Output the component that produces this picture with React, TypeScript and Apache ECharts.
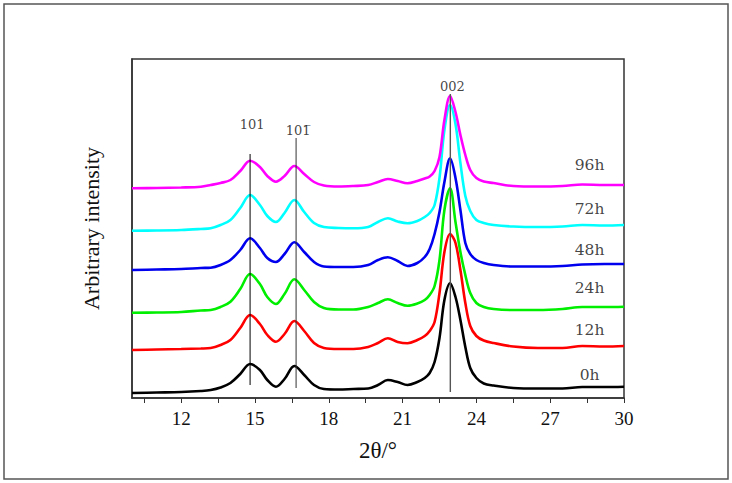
import { useEffect, useRef } from 'react';
import * as echarts from 'echarts';

// 2θ sample positions (degrees)
const twoTheta = [10, 11, 12, 12.8, 13.2, 13.6, 14.0, 14.4, 14.8, 15.2, 15.5, 15.85, 16.2, 16.6, 17.0, 17.4, 17.8, 18.4, 19.0, 19.6, 20.0, 20.4, 20.8, 21.2, 21.6, 21.9, 22.1, 22.3, 22.5, 22.7, 22.93, 23.15, 23.35, 23.55, 23.75, 24.0, 24.3, 24.7, 25.5, 26.5, 27.5, 28.3, 29.2, 30];

// offset intensities (arbitrary units) per hydrolysis time
const int0h = [7, 7.5, 8, 9, 10, 12.5, 17, 26, 36, 30, 20, 13.3, 21, 34, 25, 15, 11, 10.5, 11, 11.5, 15, 20, 18, 15, 18, 22, 27, 38, 62, 100, 116.7, 103, 80, 53, 32, 22, 16.5, 14.5, 12, 11.5, 11.5, 13, 13, 13.3];
const int12h = [50, 50.5, 51, 51.5, 52, 55, 60, 72, 85, 76, 65, 58.3, 66, 79, 69, 57, 52, 51, 51, 53, 57, 61.7, 58, 56.7, 60, 64, 69, 78, 107, 148, 166, 157, 130, 97, 74, 64, 59.5, 57, 53.5, 52, 52, 54, 53.5, 54];
const int24h = [87.3, 87.5, 88, 89.5, 90, 93, 98.3, 111, 126, 116, 103, 96, 106, 120.7, 110, 98, 92, 90.5, 90.5, 93, 97, 100.7, 97, 94.3, 96.5, 100, 105, 114, 140, 190, 211.7, 178, 148, 125, 107, 97, 93, 91, 90, 90, 91, 93, 93, 93.3];
const int48h = [130, 130.5, 131, 132, 132.3, 135, 140, 150, 161.7, 152, 142, 138, 146, 157.7, 148, 138, 133.5, 133, 133, 135, 140, 142.7, 139, 134, 137, 143, 151, 166, 188, 218, 241.7, 222, 190, 157, 146, 140, 137, 135, 133.5, 133.5, 134, 135.5, 136, 136];
const int72h = [169.3, 169.5, 170, 171, 171.7, 175, 180, 192, 205, 195, 184, 178, 187, 200, 188, 177, 173, 172, 171.7, 173, 178, 181.7, 178.5, 176.7, 179, 183, 187, 195, 222, 270, 295, 276, 237, 204, 189, 180, 177, 175, 173.5, 173, 173.5, 175, 174.5, 175];
const int96h = [211.7, 212, 212.5, 213.3, 215, 217, 220, 229, 239.3, 233, 224, 218.3, 224, 234, 226, 218, 214.5, 213.5, 214, 215, 218, 221, 219, 216.7, 219, 221.5, 223.5, 229, 243, 280, 304, 288, 265, 245, 230, 222, 218.5, 217, 214, 213.5, 214, 215.5, 215, 215];

const sampleNames = ['0h', '12h', '24h', '48h', '72h', '96h'];
const sampleSeries = [int0h, int12h, int24h, int48h, int72h, int96h];
const sampleLabelY = [25, 70, 112, 150, 191, 235];

// reflections
const peakNames = ['101', '10\u0031\u0305', '002'];
const peakPositions = [14.8, 16.67, 22.94];
const peakLineBottom = [15, 12, 8];
const peakLineTop = [246, 262, 306];
const peakLabelY = [276, 270, 314];

const xTickValues = [10.5, 12, 13.5, 15, 16.5, 18, 19.5, 21, 22.5, 24, 25.5, 27, 28.5, 30];
const xLabelValues = [12, 15, 18, 21, 24, 27, 30];

export default function App() {
  const ref = useRef<HTMLDivElement>(null);
  useEffect(() => {
    if (!ref.current) return;
    const chart = echarts.init(ref.current, undefined, { renderer: 'svg' });
    const colors = ['#000000', '#ff0000', '#00ee00', '#0000ee', '#00ffff', '#ff00ff'];
    const curveSeries = sampleSeries.map((vals, i) => ({
      type: 'line',
      name: sampleNames[i],
      data: twoTheta.map((x, j) => [x, vals[j]]),
      showSymbol: false,
      smooth: 0.35,
      lineStyle: { color: colors[i], width: 2.6 },
      itemStyle: { color: colors[i] },
      z: 3,
    }));
    const peakLineColors = ['#000', '#333', '#555'];
    const peakSeries = peakNames.map((_nm, i) => ({
      type: 'line',
      data: [
        [peakPositions[i], peakLineBottom[i]],
        [peakPositions[i], peakLineTop[i]],
      ],
      showSymbol: false,
      symbol: 'none',
      lineStyle: { color: peakLineColors[i], width: i === 2 ? 1.4 : 1 },
      z: 5,
    }));
    const peakLabelSeries = {
      type: 'scatter',
      symbolSize: 0,
      data: peakNames.map((nm, i) => ({
        value: [peakPositions[i] + 0.08, peakLabelY[i]],
        label: {
          show: true,
          position: 'inside',
          formatter: nm,
          fontFamily: 'DejaVu Serif',
          fontSize: 13,
          color: '#111',
        },
      })),
      z: 6,
    };
    const nameSeries = {
      type: 'scatter',
      symbolSize: 0,
      data: sampleNames.map((nm, i) => ({
        value: [28.6, sampleLabelY[i]],
        label: {
          show: true,
          position: 'inside',
          formatter: nm,
          fontFamily: 'DejaVu Serif',
          fontSize: 15.5,
          color: '#111',
        },
      })),
      z: 6,
    };
    chart.setOption({
      animation: false,
      backgroundColor: '#fff',
      grid: {
        left: 132,
        right: 108,
        top: 59,
        bottom: 85,
        show: true,
        borderColor: '#333',
        borderWidth: 1.5,
        backgroundColor: 'transparent',
      },
      xAxis: {
        type: 'value',
        min: 10,
        max: 30,
        name: '2\u03b8/\u00b0',
        nameLocation: 'middle',
        nameGap: 41,
        nameTextStyle: { fontFamily: 'Liberation Serif', fontSize: 23, color: '#111' },
        axisLine: { show: true, lineStyle: { color: '#333', width: 1.5 } },
        axisTick: { show: true, length: 5, inside: false, customValues: xTickValues, lineStyle: { color: '#333' } },
        axisLabel: {
          customValues: xLabelValues,
          fontFamily: 'Liberation Serif',
          fontSize: 19,
          color: '#111',
          margin: 11,
        },
        splitLine: { show: false },
      },
      yAxis: {
        type: 'value',
        min: 2,
        max: 341,
        name: 'Arbitrary intensity',
        nameLocation: 'middle',
        nameGap: 30,
        nameTextStyle: { fontFamily: 'Liberation Serif', fontSize: 22, color: '#111' },
        axisLine: { show: true, lineStyle: { color: '#333', width: 1.5 } },
        axisTick: { show: false },
        axisLabel: { show: false },
        splitLine: { show: false },
      },
      graphic: [
        {
          type: 'rect',
          shape: { x: 4, y: 4, width: 724, height: 475 },
          style: { fill: 'none', stroke: '#555', lineWidth: 1.5 },
          silent: true,
        },
      ],
      series: [...curveSeries, ...peakSeries, peakLabelSeries, nameSeries],
    });
    return () => chart.dispose();
  }, []);
  return (
    <div
      ref={ref}
      style={{ position: 'fixed', left: 0, top: 0, width: 732, height: 483 }}
    />
  );
}
